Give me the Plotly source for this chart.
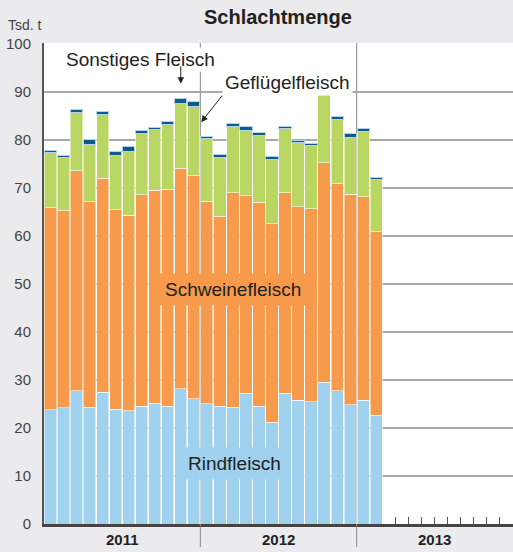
import plotly.graph_objects as go

# Monate Jan 2011 bis Feb 2013
monate = [f"{j}-{m:02d}" for j in (2011, 2012) for m in range(1, 13)] + ["2013-01", "2013-02"]

rind = [23.8, 24.2, 27.8, 24.3, 27.4, 23.9, 23.6, 24.5, 25.2, 24.5, 28.2, 26.1,
        25.0, 24.5, 24.3, 27.2, 24.5, 21.2, 27.2, 25.8, 25.5, 29.5, 27.8, 24.8,
        25.8, 22.7]
schwein = [42.1, 41.1, 45.8, 42.8, 44.6, 41.6, 40.7, 44.1, 44.3, 45.2, 45.9, 46.4,
           42.2, 39.6, 44.7, 41.2, 42.5, 41.3, 41.8, 40.3, 40.2, 45.8, 43.1, 43.9,
           42.4, 38.2]
gefluegel = [11.4, 11.0, 12.2, 11.9, 13.3, 11.3, 13.3, 12.8, 12.7, 13.6, 13.4, 14.5,
             13.2, 12.3, 13.9, 13.6, 13.9, 13.4, 13.3, 13.3, 13.2, 14.1, 13.4, 11.8,
             13.6, 10.9]
sonstiges = [0.5, 0.4, 0.6, 1.1, 0.6, 0.9, 1.0, 0.5, 0.5, 0.6, 1.2, 1.0,
             0.3, 0.6, 0.5, 0.9, 0.6, 0.6, 0.6, 0.5, 0.4, 0.2, 0.6, 0.9,
             0.6, 0.4]
jahre = ["2011", "2012", "2013"]

x = list(range(len(monate)))
FONT = "Liberation Sans, Arial, sans-serif"
BLAU, ORANGE, GRUEN, DUNKEL = "#a0d1ee", "#f79a4b", "#b9d662", "#0d5a8e"

fig = go.Figure()
for werte, farbe, name in [(rind, BLAU, "Rindfleisch"), (schwein, ORANGE, "Schweinefleisch"),
                           (gefluegel, GRUEN, "Geflügelfleisch")]:
    fig.add_bar(x=x, y=werte, name=name, marker_color=farbe,
                marker_line=dict(color="rgba(255,255,255,0.55)", width=1))
fig.add_bar(x=x, y=sonstiges, name="Sonstiges Fleisch", marker_color=DUNKEL,
            marker_line=dict(color="#b5d2ea", width=1))

# Jahrestrenner
for xv in (11.5, 23.5):
    fig.add_shape(type="line", x0=xv, x1=xv, y0=0, y1=100.2, xref="x", yref="y",
                  line=dict(color="#8a8a8a", width=1), layer="below")
    fig.add_shape(type="line", x0=xv, x1=xv, y0=-0.048, y1=0, xref="x", yref="paper",
                  line=dict(color="#8a8a8a", width=1), layer="above")

for i, j in enumerate(jahre):
    fig.add_annotation(x=5.5 + 12 * i, y=-0.033, xref="x", yref="paper", text=f"<b>{j}</b>",
                       yanchor="middle", showarrow=False,
                       font=dict(size=15, color="#222", family=FONT))

fig.add_annotation(x=0.499, y=1.054, xref="paper", yref="paper", text="<b>Schlachtmenge</b>",
                   yanchor="middle", showarrow=False, font=dict(size=20, color="#222", family=FONT))
fig.add_annotation(x=-0.08, y=1.037, xref="paper", yref="paper", text="Tsd. t", xanchor="left",
                   yanchor="middle", showarrow=False, font=dict(size=14, color="#444", family=FONT))

# Beschriftungen
fig.add_annotation(x=6.9, y=96.7, text="Sonstiges Fleisch", showarrow=False, bgcolor="white",
                   font=dict(size=19, color="#222", family=FONT))
fig.add_annotation(x=18.2, y=91.9, text="Geflügelfleisch", showarrow=False, bgcolor="white",
                   borderpad=2, font=dict(size=19, color="#222", family=FONT))
fig.add_annotation(x=14.0, y=48.9, text="Schweinefleisch", showarrow=False, bgcolor=ORANGE,
                   borderpad=5, font=dict(size=19, color="#222", family=FONT))
fig.add_annotation(x=14.1, y=12.7, text="Rindfleisch", showarrow=False, bgcolor=BLAU,
                   borderpad=5, font=dict(size=19, color="#222", family=FONT))

# Pfeile
fig.add_annotation(x=10.0, y=91.7, ax=0, ay=-19, text="", showarrow=True, arrowhead=2,
                   arrowsize=1.3, arrowwidth=1, arrowcolor="#222")
fig.add_annotation(x=11.57, y=83.7, ax=22, ay=-28, text="", showarrow=True, arrowhead=2,
                   arrowsize=1.3, arrowwidth=1, arrowcolor="#222")

fig.update_layout(
    barmode="stack", bargap=0.06, showlegend=False,
    width=513, height=552, margin=dict(l=44, r=0, t=43, b=28),
    paper_bgcolor="#ebebed", plot_bgcolor="white",
    font=dict(family=FONT, color="#444"),
)
fig.update_xaxes(range=[-0.5, 35.5], showgrid=False, zeroline=False, showline=True,
                 linecolor="#444", linewidth=2.5, ticks="inside", ticklen=7, tickcolor="#555",
                 tickvals=[26.5 + k for k in range(9)], showticklabels=False)
fig.update_yaxes(range=[0, 100.2], tickvals=list(range(0, 101, 10)), showgrid=True,
                 gridcolor="#a8a8a8", gridwidth=1.5, zeroline=False, showline=True,
                 linecolor="#555", linewidth=2, ticks="", ticklabelstandoff=8,
                 tickfont=dict(size=15, color="#444"))

fig.write_html("out.html", config={"displayModeBar": False},
               post_script="document.body.style.margin='0';")
